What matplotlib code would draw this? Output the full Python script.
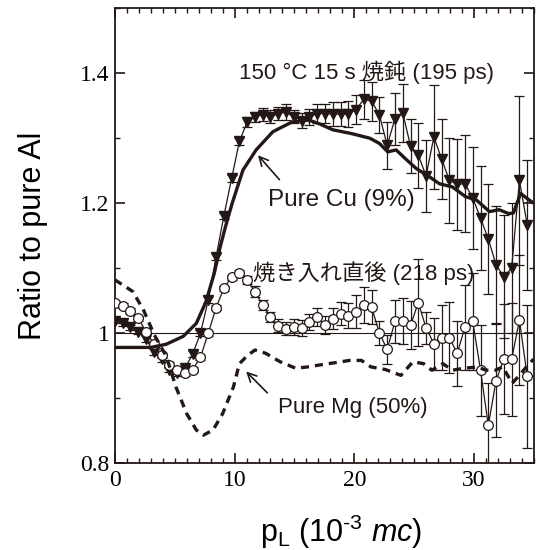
import numpy as np
import matplotlib
matplotlib.use('Agg')
import matplotlib.pyplot as plt
from matplotlib.ticker import MultipleLocator

plt.rcParams['mathtext.fontset'] = 'custom'
plt.rcParams['mathtext.rm'] = 'Liberation Sans'
plt.rcParams['mathtext.it'] = 'Liberation Sans:italic'
plt.rcParams['lines.scale_dashes'] = False

INK = '#231815'

# measured points, same p_L grid for both samples (step ~0.65)
pl = np.arange(54) * 0.65

annealed = [1.019, 1.015, 1.009, 1.002, 0.991, 0.971, 0.960, 0.944, 0.938, 0.946,
            0.968, 1.000, 1.051, 1.117, 1.180, 1.238, 1.295, 1.325, 1.333, 1.336,
            1.333, 1.338, 1.340, 1.333, 1.327, 1.333, 1.338, 1.338, 1.337, 1.337,
            1.337, 1.344, 1.360, 1.357, 1.336, 1.289, 1.330, 1.339, 1.288, 1.274,
            1.242, 1.302, 1.268, 1.235, 1.229, 1.230, 1.208, 1.177, 1.145, 1.105,
            1.087, 1.100, 1.235, 1.167]
annealed_err = [0.004] * 11 + [0.005] * 6 + [
    0.008, 0.008, 0.010, 0.010, 0.010, 0.012, 0.010,
    0.012, 0.012, 0.015, 0.015, 0.018, 0.018, 0.020, 0.022, 0.030, 0.030,
    0.028, 0.036, 0.040, 0.045, 0.042, 0.050, 0.055, 0.080, 0.062, 0.066,
    0.070, 0.075, 0.078, 0.080, 0.085, 0.090, 0.095, 0.100, 0.130, 0.100]

quenched = [1.046, 1.042, 1.034, 1.023, 1.002, 0.984, 0.966, 0.951, 0.943, 0.938,
            0.944, 0.963, 1.000, 1.039, 1.069, 1.086, 1.093, 1.082, 1.064, 1.043,
            1.025, 1.011, 1.007, 1.009, 1.008, 1.017, 1.025, 1.013, 1.022, 1.030,
            1.027, 1.033, 1.043, 1.040, 1.000, 0.975, 1.018, 1.019, 1.012, 1.047,
            1.008, 0.984, 0.993, 0.993, 0.969, 1.009, 1.018, 0.943, 0.858, 0.927,
            0.960, 0.960, 1.020, 0.934]
quenched_err = [0.004] * 17 + [
    0.006, 0.008, 0.008, 0.008, 0.010, 0.010, 0.012,
    0.012, 0.012, 0.014, 0.014, 0.016, 0.018, 0.019, 0.025, 0.028, 0.026,
    0.019, 0.022, 0.033, 0.035, 0.037, 0.067, 0.025, 0.040, 0.050, 0.055,
    0.050, 0.065, 0.075, 0.070, 0.065, 0.087, 0.085, 0.087, 0.100, 0.110]

# reference curves
cu_x = [0, 3.0, 4.3, 5.7, 6.8, 7.6, 8.3, 8.8, 9.3, 9.8, 10.7, 11.8, 13.2, 14.8,
        16.2, 17.1, 18.2, 19.8, 21.3, 22.1, 22.8, 23.5, 24.3, 25.2, 26.1, 27.1,
        28.2, 29.3, 30.2, 31.3, 32.1, 32.9, 33.3, 33.9, 34.6, 35.0]
cu_y = [0.978, 0.978, 0.983, 0.995, 1.015, 1.048, 1.092, 1.133, 1.168, 1.200,
        1.251, 1.282, 1.310, 1.325, 1.328, 1.322, 1.313, 1.307, 1.300, 1.292,
        1.279, 1.282, 1.268, 1.253, 1.243, 1.230, 1.225, 1.210, 1.205, 1.187,
        1.190, 1.184, 1.185, 1.215, 1.205, 1.200]

mg_x = [0, 1.5, 2.4, 3.3, 4.3, 5.1, 6.0, 6.8, 7.4, 8.2, 9.0, 9.9, 10.4, 11.1,
        11.7, 12.6, 13.8, 15.1, 16.1, 17.1, 18.2, 19.6, 20.6, 21.4, 22.6, 23.9,
        24.9, 25.8, 26.5, 27.4, 28.2, 29.2, 30.3, 31.0, 31.8, 32.4, 33.2, 33.8,
        34.6, 35.0]
mg_y = [1.082, 1.064, 1.035, 0.997, 0.964, 0.917, 0.876, 0.851, 0.843, 0.851,
        0.876, 0.917, 0.953, 0.966, 0.974, 0.969, 0.956, 0.946, 0.948, 0.951,
        0.954, 0.958, 0.958, 0.948, 0.944, 0.935, 0.956, 0.953, 0.943, 0.953,
        0.943, 0.946, 0.948, 0.943, 0.943, 0.948, 0.923, 0.935, 0.953, 0.960]

fig = plt.figure(figsize=(5.37, 5.5), dpi=100)
ax = fig.add_axes([0.214, 0.158, 0.780, 0.827])

ax.axhline(1.0, color=INK, lw=0.8, zorder=1)

ax.errorbar(pl, annealed, yerr=annealed_err, fmt='-v', color=INK, lw=0.9,
            ms=7.5, mfc=INK, mec=INK, elinewidth=0.9, capsize=3.5, capthick=0.9,
            zorder=3)
ax.errorbar(pl, quenched, yerr=quenched_err, fmt='-o', color=INK, lw=0.9,
            ms=7, mfc='white', mec=INK, mew=0.9, elinewidth=0.9, capsize=3.5,
            capthick=0.9, zorder=4)

ax.plot(cu_x, cu_y, color=INK, lw=2.4, zorder=5, solid_capstyle='butt')
ax.plot(mg_x, mg_y, color=INK, lw=2.4, dashes=(5.8, 4.3), zorder=5)

ax.set_xlim(0, 35)
ax.set_ylim(0.8, 1.5)
ax.xaxis.set_major_locator(MultipleLocator(10))
ax.xaxis.set_minor_locator(MultipleLocator(1))
ax.yaxis.set_minor_locator(MultipleLocator(0.1))
ax.set_yticks([0.8, 1.0, 1.2, 1.4])
ax.set_yticklabels(['0.8', '1', '1.2', '1.4'])
ax.tick_params(which='both', direction='in', top=True, right=True, color=INK)
ax.tick_params(which='major', length=7, width=1.2, labelsize=17, pad=4)
ax.tick_params(axis='x', which='major', pad=5)
ax.tick_params(which='minor', length=3.5, width=1.0)
for lab in ax.get_xticklabels() + ax.get_yticklabels():
    lab.set_family('Liberation Serif')
for sp in ax.spines.values():
    sp.set_linewidth(1.3)
    sp.set_color(INK)

ax.set_ylabel('Ratio to pure Al', family='Liberation Sans', fontsize=22)
ax.set_xlabel(r'p$_{\rm L}$ (10$^{\text{-3}}$ $mc$)', family='Liberation Sans',
              fontsize=22)
ax.xaxis.set_label_coords(0.54, -0.11)
ax.yaxis.set_label_coords(-0.16, 0.5)

jp = ['Liberation Sans', 'Noto Sans CJK JP']
ax.text(10.4, 1.402, '150 °C 15 s 焼鈍 (195 ps)', family=jp, fontsize=16,
        va='center', ha='left', color=INK, zorder=6)
ax.text(12.8, 1.205, 'Pure Cu (9%)', family=jp, fontsize=17.5,
        va='center', ha='left', color=INK, zorder=6)
ax.text(11.5, 1.093, '焼き入れ直後 (218 ps)', family=jp, fontsize=16,
        va='center', ha='left', color=INK, zorder=6)
ax.text(13.6, 0.885, 'Pure Mg (50%)', family=jp, fontsize=16,
        va='center', ha='left', color=INK, zorder=6)

arrow = dict(arrowstyle='->', color=INK, lw=1.2, mutation_scale=16)
ax.annotate('', xy=(11.8, 1.277), xytext=(13.9, 1.233), arrowprops=arrow)
ax.annotate('', xy=(10.8, 0.944), xytext=(12.9, 0.905), arrowprops=arrow)

fig.savefig('out.png', dpi=100)
